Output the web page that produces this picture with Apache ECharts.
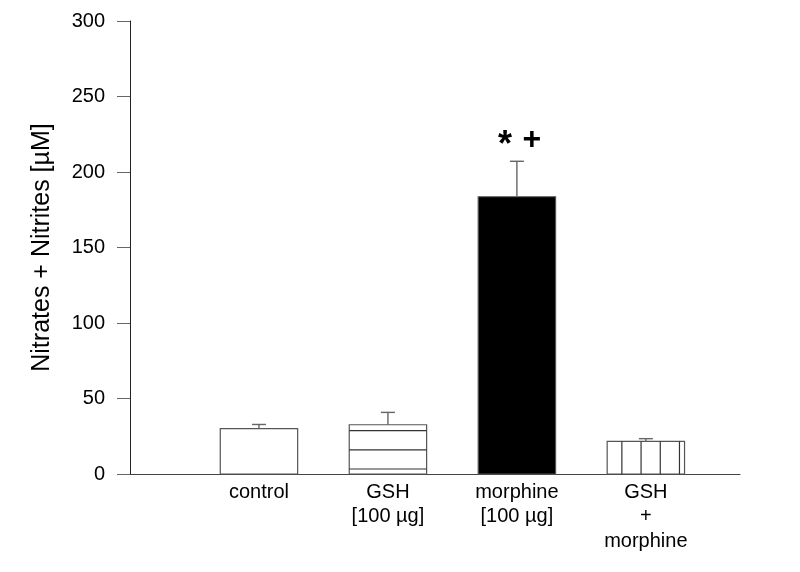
<!DOCTYPE html>
<html><head><meta charset="utf-8">
<script src="https://cdn.jsdelivr.net/npm/echarts@6/dist/echarts.min.js"></script>
<style>html,body{margin:0;padding:0;background:#fff}#c{width:800px;height:572px}</style>
</head><body><div id="c"></div>
<script>
const categories = ['control', 'GSH\n[100 \u00b5g]', 'morphine\n[100 \u00b5g]', 'GSH\n+\nmorphine'];
const means = [30, 32.6, 183.6, 21.6];
const errors = [2.8, 8.2, 23.5, 1.8];
const patterns = ['none', 'horizontal', 'solid', 'vertical'];
const annotations = ['', '', '* +', ''];
const yTicks = [0, 50, 100, 150, 200, 250, 300];

const chart = echarts.init(document.getElementById('c'));
const FONT = 'Liberation Sans, Arial, sans-serif';
const barData = means.map((v, i) => [i + 1, v, i]);
const errData = means.map((v, i) => [i + 1, v, v + errors[i], i]);

chart.setOption({
  animation: false,
  grid: {left: 130, right: 60, top: 21, bottom: 98},
  xAxis: {
    type: 'value', min: 0, max: 4.73, interval: 1,
    axisLine: {show: true, lineStyle: {color: '#444', width: 1}},
    axisTick: {show: false}, splitLine: {show: false},
    axisLabel: {
      showMaxLabel: false, showMinLabel: false,
      formatter: v => (Number.isInteger(v) && v >= 1 && v <= categories.length) ? categories[v - 1] : '',
      fontFamily: FONT, fontSize: 20, color: '#000', lineHeight: 24.5, margin: 6, verticalAlign: 'top'
    }
  },
  yAxis: {
    type: 'value', min: yTicks[0], max: yTicks[yTicks.length - 1], interval: 50,
    name: 'Nitrates + Nitrites [\u00b5M]', nameLocation: 'middle', nameGap: 75,
    nameTextStyle: {fontFamily: FONT, fontSize: 25, color: '#000'},
    axisLine: {show: true, lineStyle: {color: '#222', width: 1}},
    axisTick: {show: true, inside: false, length: 13, lineStyle: {color: '#666'}},
    splitLine: {show: false},
    axisLabel: {fontFamily: FONT, fontSize: 20, color: '#000', margin: 25}
  },
  series: [
    {
      type: 'custom',
      data: barData,
      renderItem: function (params, api) {
        const x = api.value(0), v = api.value(1), idx = api.value(2);
        const top = api.coord([x, v]);
        const base = api.coord([x, 0]);
        const w = api.size([0.6, 0])[0];
        const left = top[0] - w / 2, right = top[0] + w / 2;
        const h = base[1] - top[1];
        const kind = patterns[idx];
        const children = [{
          type: 'rect',
          shape: {x: left, y: top[1], width: w, height: h},
          style: {fill: kind === 'solid' ? '#000' : '#fff', stroke: '#555', lineWidth: 1.2}
        }];
        const step = 19.2;
        if (kind === 'horizontal') {
          for (let y = base[1] - 5; y > top[1] + 1; y -= step) {
            children.push({type: 'line', shape: {x1: left, y1: y, x2: right, y2: y}, style: {stroke: '#333', lineWidth: 1.2}});
          }
        } else if (kind === 'vertical') {
          for (let xx = left + 14.7; xx < right - 1; xx += step) {
            children.push({type: 'line', shape: {x1: xx, y1: top[1], x2: xx, y2: base[1]}, style: {stroke: '#333', lineWidth: 1.2}});
          }
        }
        return {type: 'group', children: children};
      },
      z: 2
    },
    {
      type: 'custom',
      data: errData,
      renderItem: function (params, api) {
        const x = api.value(0), lo = api.value(1), hi = api.value(2), idx = api.value(3);
        const p0 = api.coord([x, lo]);
        const p1 = api.coord([x, hi]);
        const cap = 7;
        const children = [
          {type: 'line', shape: {x1: p0[0], y1: p0[1], x2: p1[0], y2: p1[1]}, style: {stroke: '#666', lineWidth: 1.4}},
          {type: 'line', shape: {x1: p1[0] - cap, y1: p1[1], x2: p1[0] + cap, y2: p1[1]}, style: {stroke: '#666', lineWidth: 1.4}}
        ];
        if (annotations[idx]) {
          const marks = annotations[idx].split(' ');
          children.push({type: 'text', x: p1[0] - 12, y: p1[1] - 15,
            style: {text: marks[0], fontFamily: FONT, fontSize: 36, fontWeight: 'bold', fill: '#000', align: 'center', verticalAlign: 'middle'}});
          children.push({type: 'text', x: p1[0] + 15, y: p1[1] - 21,
            style: {text: marks[1], fontFamily: FONT, fontSize: 32, fontWeight: 'bold', fill: '#000', align: 'center', verticalAlign: 'middle'}});
        }
        return {type: 'group', children: children};
      },
      z: 3
    }
  ]
});
</script></body></html>
